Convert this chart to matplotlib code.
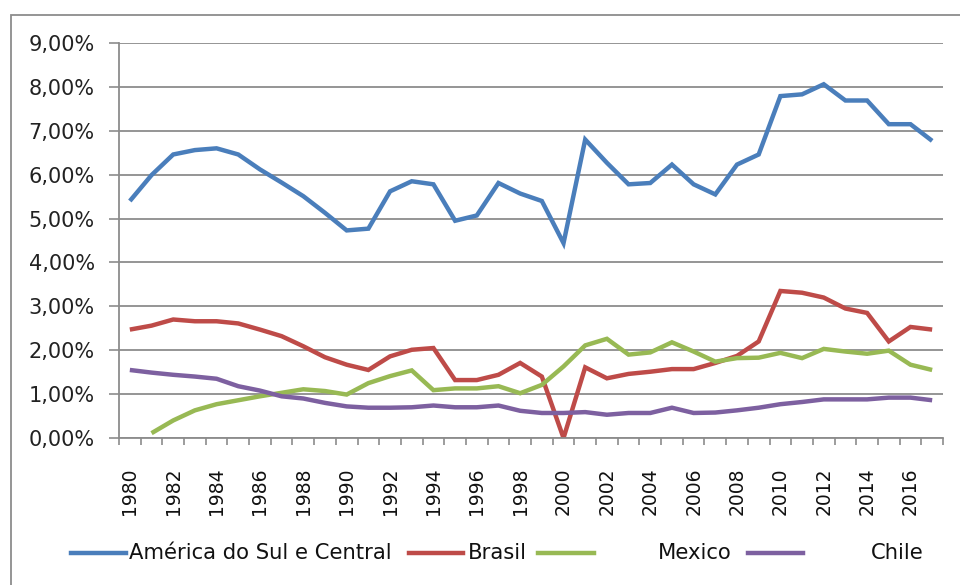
import matplotlib
matplotlib.use('Agg')
import matplotlib.pyplot as plt
from matplotlib.lines import Line2D
from matplotlib.patches import Rectangle
from matplotlib.ticker import FuncFormatter, FixedLocator, NullFormatter

years = list(range(1980, 2018))

america = [5.40, 5.99, 6.46, 6.56, 6.60, 6.46, 6.12, 5.82, 5.51, 5.13,
           4.73, 4.77, 5.62, 5.85, 5.78, 4.95, 5.07, 5.81, 5.57, 5.40,
           4.44, 6.80, 6.27, 5.78, 5.81, 6.23, 5.78, 5.55, 6.23, 6.46,
           7.79, 7.83, 8.06, 7.69, 7.69, 7.15, 7.15, 6.77]

brasil = [2.47, 2.56, 2.70, 2.66, 2.66, 2.61, 2.47, 2.32, 2.09, 1.84,
          1.67, 1.55, 1.86, 2.01, 2.05, 1.32, 1.32, 1.44, 1.71, 1.40,
          0.00, 1.61, 1.36, 1.46, 1.51, 1.57, 1.57, 1.71, 1.87, 2.20,
          3.35, 3.31, 3.20, 2.95, 2.85, 2.20, 2.53, 2.47]

# Mexico has no value for 1980
mexico = [None, 0.11, 0.40, 0.63, 0.77, 0.86, 0.95, 1.03, 1.11, 1.07,
          0.99, 1.25, 1.41, 1.54, 1.09, 1.13, 1.13, 1.18, 1.02, 1.21,
          1.63, 2.11, 2.26, 1.90, 1.95, 2.18, 1.97, 1.74, 1.82, 1.83,
          1.94, 1.82, 2.03, 1.97, 1.92, 1.99, 1.67, 1.55]

chile = [1.55, 1.49, 1.44, 1.40, 1.35, 1.18, 1.08, 0.95, 0.90, 0.80,
         0.72, 0.69, 0.69, 0.70, 0.74, 0.70, 0.70, 0.74, 0.62, 0.57,
         0.57, 0.59, 0.53, 0.57, 0.57, 0.69, 0.57, 0.58, 0.63, 0.69,
         0.77, 0.82, 0.88, 0.88, 0.88, 0.92, 0.92, 0.86]

series = [
    ('América do Sul e Central', america, '#4A7EBB'),
    ('Brasil', brasil, '#BE4B48'),
    ('Mexico', mexico, '#98B954'),
    ('Chile', chile, '#7D60A0'),
]

W, H = 960, 585
grid_color = '#8C8C8C'

fig = plt.figure(figsize=(W / 100, H / 100), dpi=100)
fig.patch.set_facecolor('white')

# outer chart frame (Excel style)
fig.add_artist(Rectangle((11 / W, -0.05), 1.0, 1 - 15 / H + 0.05,
                         transform=fig.transFigure, fill=False,
                         edgecolor='#8C8C8C', linewidth=1.3))

ax = fig.add_axes([119 / W, 1 - 438 / H, (943 - 119) / W, (438 - 43) / H])

x = list(range(len(years)))
for name, vals, color in series:
    xs = [i for i, v in zip(x, vals) if v is not None]
    ys = [v / 100 for v in vals if v is not None]
    ax.plot(xs, ys, color=color, linewidth=3.2, solid_joinstyle='miter',
            solid_capstyle='butt', label=name)

ax.set_xlim(-0.5, len(years) - 0.5)
ax.set_ylim(0, 0.09)

# y axis
ax.set_yticks([i / 100 for i in range(10)])
ax.yaxis.set_major_formatter(FuncFormatter(lambda v, p: f'{v * 100:.2f}%'.replace('.', ',')))
ax.yaxis.grid(True, color=grid_color, linewidth=1.3)
ax.set_axisbelow(True)
ax.tick_params(axis='y', length=7.5, width=1.2, color=grid_color, pad=10,
               labelsize=15, labelcolor='#222222')

# x axis: ticks between categories, labels on even years
ax.xaxis.set_minor_locator(FixedLocator([i - 0.5 for i in range(len(years) + 1)]))
ax.xaxis.set_minor_formatter(NullFormatter())
even = [i for i, y in enumerate(years) if y % 2 == 0]
ax.set_xticks(even)
ax.set_xticklabels([str(years[i]) for i in even], rotation=90, va='top')
ax.tick_params(axis='x', which='major', length=0, pad=21, labelsize=13.5,
               labelcolor='#111111')
ax.tick_params(axis='x', which='minor', length=5, width=1.2, color=grid_color)

for side in ('top', 'right'):
    ax.spines[side].set_visible(False)
for side in ('left', 'bottom'):
    ax.spines[side].set_color(grid_color)
    ax.spines[side].set_linewidth(1.3)

# legend laid out like the original (line, then text)
legend_y = 1 - 553 / H
legend_pos = [(71, 126, 129), (409, 463, 468), (538, 594, 658), (748, 803, 871)]
for (name, vals, color), (x0, x1, tx) in zip(series, legend_pos):
    fig.add_artist(Line2D([x0 / W, x1 / W], [legend_y, legend_y],
                          transform=fig.transFigure, color=color, linewidth=3.2))
    fig.text(tx / W, legend_y, name, ha='left', va='center', fontsize=15.2,
             family='DejaVu Sans', color='#111111')

fig.savefig('out.png', dpi=100)
